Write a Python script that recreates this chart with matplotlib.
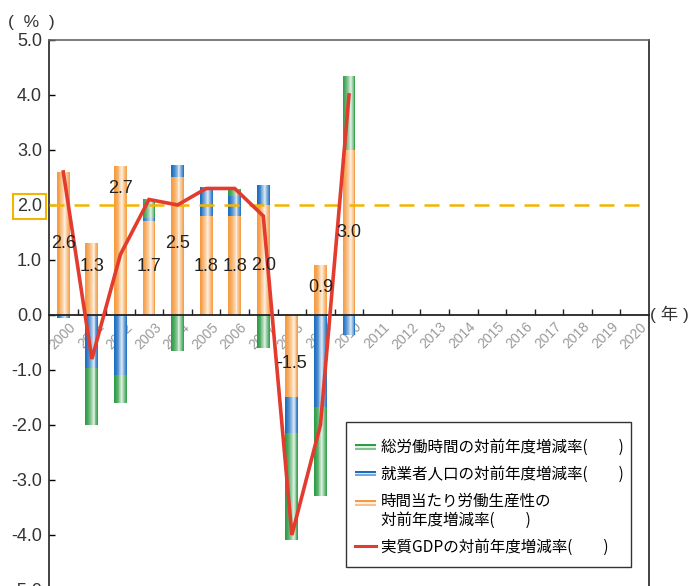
import numpy as np
import matplotlib.pyplot as plt
from matplotlib.colors import to_rgb
from matplotlib.legend_handler import HandlerBase
from matplotlib.patches import Rectangle, Patch
from matplotlib.lines import Line2D
from matplotlib.transforms import ScaledTranslation

# 年度 (2011年度以降は空欄)
years = list(range(2000, 2021))

# 2000～2010年度の値 (%)
productivity = [2.6, 1.3, 2.7, 1.7, 2.5, 1.8, 1.8, 2.0, -1.5, 0.9, 3.0]
total_hours = [-0.03, -2.0, -1.6, 0.4, -0.65, 0.5, 0.49, -0.6, -2.6, -3.3, 1.35]
employed = [-0.05, -0.97, -1.1, 0.07, 0.22, 0.52, 0.37, 0.37, -0.64, -1.68, -0.36]
gdp = [2.6, -0.8, 1.1, 2.1, 2.0, 2.3, 2.3, 1.8, -4.0, -2.0, 4.0]

# 数値ラベルの高さ
label_at = [1.3, 0.88, 2.3, 0.88, 1.3, 0.88, 0.88, 0.9, -0.88, 0.5, 1.5]

yticks = [5, 4, 3, 2, 1, 0, -1, -2, -3, -4, -5]
target = 2.0

C_ORANGE = '#f59a3e'
C_BLUE = '#1a6ebf'
C_GREEN = '#2c9c45'
C_RED = '#e33b2e'
C_DASH = '#f5b400'

NUM_FONT = 'Liberation Sans'
JP_FONT = 'Noto Sans CJK JP'

fig = plt.figure(figsize=(6.9, 5.86), dpi=100)
ax = fig.add_axes([0.0710, -0.0068, 0.8696, 0.9386])

x = np.arange(len(productivity))
W = 0.45
N = 14


def grad_bars(xs, bottoms, heights, color, z):
    # 円柱風のグラデーション (縦の帯を並べる)
    base = np.array(to_rgb(color))
    offs = (np.arange(N) + 0.5) / N
    for o in offs:
        if o < 0.64:
            k = (o / 0.64) ** 1.6
        else:
            k = 1 - ((o - 0.64) / 0.36) ** 0.8
        c = base + (1 - base) * k * 0.88
        ax.bar(xs - W / 2 + o * W, heights, W / N * 1.05, bottom=bottoms,
               color=c, linewidth=0, zorder=z)


p = np.array(productivity)
h = np.array(total_hours)
e = np.array(employed)

grad_bars(x, 0, p, C_ORANGE, 2)
grad_bars(x, np.where(np.sign(h) == np.sign(p), p, 0), h, C_GREEN, 2.1)
grad_bars(x, np.where(np.sign(e) == np.sign(p), p, 0), e, C_BLUE, 2.2)

ax.axhline(target, color=C_DASH, lw=1.8, dashes=(6, 4), zorder=3)
ax.plot(x, gdp, color=C_RED, lw=2.6, zorder=5, solid_joinstyle='miter')

for xi, v, ly in zip(x, productivity, label_at):
    ax.text(xi, ly, f'{v:.1f}', ha='center', va='center', fontsize=13,
            family=NUM_FONT, color='#222222', zorder=6)

ax.set_xlim(-0.5, len(years) - 0.5)
ax.set_ylim(-5, 5)

# 軸
ax.spines['bottom'].set_position(('data', 0))
ax.spines['bottom'].set_color('#222222')
ax.spines['bottom'].set_linewidth(1.3)
ax.spines['bottom'].set_zorder(4)
ax.spines['left'].set_color('#222222')
ax.spines['right'].set_color('#222222')
ax.spines['top'].set_color('#666666')
for s in ['left', 'right', 'top']:
    ax.spines[s].set_linewidth(1.2)

ax.set_xticks(np.arange(len(years)), [str(y) for y in years])
ax.set_xticks(np.arange(len(years) - 1) + 0.5, minor=True)
ax.tick_params(axis='x', which='major', length=0, pad=7, labelsize=10,
               labelcolor='#9a9a9a')
ax.tick_params(axis='x', which='minor', direction='in', length=4,
               width=1, color='#222222')
shift = ScaledTranslation(0.10, 0, fig.dpi_scale_trans)
for lab in ax.get_xticklabels():
    lab.set_rotation(45)
    lab.set_rotation_mode('anchor')
    lab.set_ha('right')
    lab.set_va('center')
    lab.set_family(NUM_FONT)
    lab.set_transform(lab.get_transform() + shift)

ax.set_yticks(yticks, [f'{v:.1f}' for v in yticks])
ax.tick_params(axis='y', direction='in', length=4, width=1, pad=5,
               labelsize=13, labelcolor='#333333')
for lab in ax.get_yticklabels():
    lab.set_family(NUM_FONT)
for tk in ax.yaxis.get_major_ticks():
    if tk.get_loc() == target:
        tk.label1.set_bbox(dict(boxstyle='square,pad=0.22', fc='none',
                                ec=C_DASH, lw=1.5))

fig.text(0.012, 1 - 22 / 586, '(  %  )', ha='left', va='center',
         fontsize=12.5, family=NUM_FONT, color='#333333')
fig.text(650 / 690, 1 - 314 / 586, '( 年 )', ha='left', va='center',
         fontsize=12.5, family=[NUM_FONT, JP_FONT], color='#333333')


class StripeHandler(HandlerBase):
    def __init__(self, color, lift=0.0):
        super().__init__()
        self.color = color
        self.lift = lift

    def create_artists(self, legend, orig_handle, xdescent, ydescent,
                       width, height, fontsize, trans):
        base = np.array(to_rgb(self.color))
        bh = height * 0.5
        y0 = -ydescent + (height - bh) / 2 + self.lift
        arts = []
        for k, s in enumerate([0.0, 0.85, 0.4]):
            c = base + (1 - base) * s
            arts.append(Rectangle((-xdescent, y0 + bh - (k + 1) * bh / 3),
                                  width, bh / 3, fc=c, ec='none',
                                  transform=trans))
        return arts


# 凡例の枠
ax.add_patch(Rectangle((0.495, 0.0418), 0.475, 0.2637, transform=ax.transAxes,
                       fc='white', ec='#333333', lw=1.0, zorder=7))

hg = Patch(color=C_GREEN)
hb = Patch(color=C_BLUE)
ho = Patch(color=C_ORANGE)
hr = Line2D([], [], color=C_RED, lw=2.2)
leg = ax.legend(
    [hg, hb, ho, hr],
    ['総労働時間の対前年度増減率(　　)',
     '就業者人口の対前年度増減率(　　)',
     '時間当たり労働生産性の\n対前年度増減率(　　)',
     '実質GDPの対前年度増減率(　　)'],
    handler_map={hg: StripeHandler(C_GREEN), hb: StripeHandler(C_BLUE),
                 ho: StripeHandler(C_ORANGE, lift=6.5)},
    loc='upper left', bbox_to_anchor=(0.495, 0.291),
    prop={'family': JP_FONT, 'size': 11.2},
    handlelength=1.3, handletextpad=0.35, labelspacing=0.62,
    borderpad=0.6, borderaxespad=0, frameon=False)
leg.set_zorder(8)

fig.savefig('out.png', dpi=100)
